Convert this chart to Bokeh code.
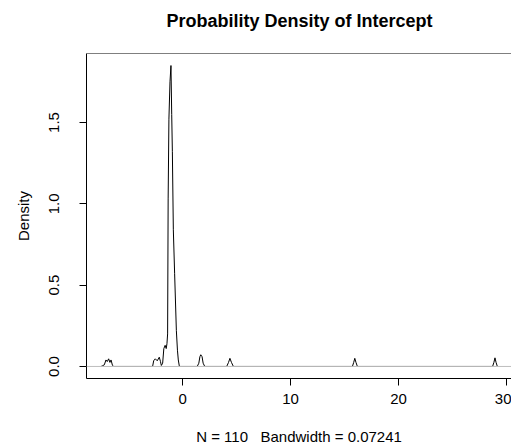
from bokeh.plotting import figure
from bokeh.models import Range1d, FixedTicker, Span, NumeralTickFormatter, Title
from bokeh.embed import file_html
from bokeh.resources import INLINE

# Density curve vertices (x = intercept, y = density)
intercept_x = [-7.55, -7.40, -7.25, -7.10, -6.98, -6.85, -6.73, -6.63, -6.50, -6.38,
               -2.78, -2.68, -2.53, -2.35, -2.16, -2.05, -1.97, -1.85, -1.74, -1.62,
               -1.52, -1.45, -1.39, -1.34, -1.27, -1.17, -1.08, -1.01, -0.95, -0.86,
               -0.74, -0.58, -0.48, -0.40, -0.30,
               1.35, 1.50, 1.60, 1.68, 1.80, 1.90, 2.05,
               4.08, 4.25, 4.38, 4.52, 4.70,
               15.72, 15.84, 15.94, 16.05, 16.18,
               28.70, 28.82, 28.92, 29.02, 29.14]
density_y = [0.0, 0.005, 0.010, 0.040, 0.030, 0.047, 0.025, 0.040, 0.008, 0.0,
             0.0, 0.035, 0.047, 0.035, 0.057, 0.030, 0.006, 0.020, 0.110, 0.130,
             0.110, 0.140, 0.200, 1.030, 1.520, 1.750, 1.850, 1.550, 1.320, 0.840,
             0.570, 0.220, 0.100, 0.040, 0.0,
             0.0, 0.020, 0.060, 0.072, 0.060, 0.020, 0.0,
             0.0, 0.025, 0.050, 0.025, 0.0,
             0.0, 0.025, 0.050, 0.025, 0.0,
             0.0, 0.025, 0.053, 0.025, 0.0]

x_ticks = [0, 10, 20, 30]
y_ticks = [0.0, 0.5, 1.0, 1.5]

title_text = "Probability Density of Intercept"
x_label = "N = 110\u00a0\u00a0\u00a0Bandwidth = 0.07241"
y_label = "Density"

FONT = "Liberation Sans"

y_lo, y_hi = -0.074, 1.924

p = figure(width=511, height=447, output_backend="svg", toolbar_location=None,
           x_range=Range1d(-8.9, 30.45), y_range=Range1d(y_lo, y_hi),
           min_border_left=86, min_border_right=0, min_border_top=53,
           min_border_bottom=69, background_fill_color="white",
           border_fill_color="white")

# spacer between the plot box and the title
p.add_layout(Title(text=" ", text_font_size="1px", standoff=13), "above")

p.title.text = title_text
p.title.align = "left"
p.title.offset = 80
p.title.vertical_align = "top"
p.title.text_font = FONT
p.title.text_font_size = "18px"
p.title.text_font_style = "bold"
p.title.text_color = "black"
p.title.standoff = 10

p.grid.visible = False
p.outline_line_color = None

for ax in (p.xaxis[0], p.yaxis[0]):
    ax.axis_line_color = "black"
    ax.major_tick_line_color = "black"
    ax.major_tick_out = 7
    ax.major_tick_in = 0
    ax.minor_tick_line_color = None
    ax.major_label_text_font = FONT
    ax.major_label_text_font_size = "15px"
    ax.major_label_text_color = "black"
    ax.axis_label_text_font = FONT
    ax.axis_label_text_font_size = "15px"
    ax.axis_label_text_font_style = "normal"
    ax.axis_label_text_color = "black"

p.xaxis.ticker = FixedTicker(ticks=x_ticks)
p.xaxis.major_label_standoff = 8
p.xaxis.axis_label = x_label
p.xaxis.axis_label_standoff = 21

p.yaxis.ticker = FixedTicker(ticks=y_ticks)
p.yaxis.formatter = NumeralTickFormatter(format="0.0")
p.yaxis.major_label_orientation = "vertical"
p.yaxis.major_label_standoff = 20
p.yaxis.axis_label = y_label
p.yaxis.axis_label_standoff = 15

p.line(intercept_x, density_y, line_color="black", line_width=1)
p.add_layout(Span(location=0, dimension="width", line_color="#bebebe", line_width=1))
# top edge of the plot box (the right edge lies outside the window in the reference)
p.add_layout(Span(location=y_hi, dimension="width", line_color="black", line_width=1))

open("out.html", "w").write(file_html(p, INLINE))
